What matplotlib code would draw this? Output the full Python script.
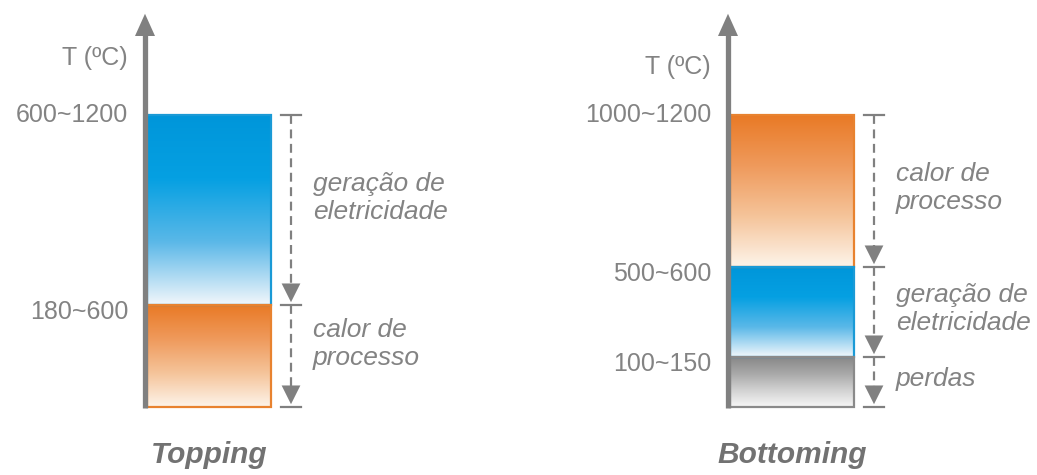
import numpy as np
import matplotlib
matplotlib.use("Agg")
import matplotlib.pyplot as plt
from matplotlib.colors import to_rgb

# ---------------- data ----------------
panel_titles = ["Topping", "Bottoming"]
# segments listed from top to bottom; heights in diagram units
topping_levels = ["600~1200", "180~600"]
topping_labels = ["geração de\neletricidade", "calor de\nprocesso"]
topping_heights = [190, 102]
topping_kinds = ["blue", "orange"]

bottoming_levels = ["1000~1200", "500~600", "100~150"]
bottoming_labels = ["calor de\nprocesso", "geração de\neletricidade", "perdas"]
bottoming_heights = [152, 90, 50]
bottoming_kinds = ["orange", "blue", "gray"]

axis_label = "T (ºC)"

# ---------------- style ----------------
W, H = 1037, 475
GRAY = "#808080"
TEXT = "#838383"
grad = {
    "blue": (["#0096da", "#05a0e2", "#5ab8e8", "#f2f7fb"], "#1a9ad6"),
    "orange": (["#e97a26", "#ef9a5c", "#f5c49a", "#fdf4ea"], "#e8822f"),
    "gray": (["#888888", "#a9a9a9", "#d2d2d2", "#f7f7f7"], "#8a8a8a"),
}

plt.rcParams["font.family"] = ["Liberation Sans", "DejaVu Sans"]
fig = plt.figure(figsize=(W / 100, H / 100), dpi=100)
ax = fig.add_axes([0, 0, 1, 1])
ax.set_xlim(0, W)
ax.set_ylim(-68, 407)   # y = 0 at bottom of the bars
ax.axis("off")


def gradient(colors, n=256):
    stops = np.linspace(0, 1, len(colors))
    rgb = np.array([to_rgb(c) for c in colors])
    t = np.linspace(0, 1, n)
    arr = np.stack([np.interp(t, stops, rgb[:, i]) for i in range(3)], axis=1)
    return arr[:, None, :]


def panel(axis_x, title, levels, labels, heights, kinds, tlabel_y, text_dy):
    bar_w = 124
    x0, x1 = axis_x + 2, axis_x + 2 + bar_w
    total = sum(heights)
    tops = total - np.concatenate([[0], np.cumsum(heights)[:-1]])
    bottoms = tops - np.array(heights)
    dim_x = x1 + 20
    # bars
    for top, bot, kind in zip(tops, bottoms, kinds):
        cols, edge = grad[kind]
        ax.imshow(gradient(cols), extent=(x0, x1, bot, top), origin="upper",
                  aspect="auto", zorder=2, interpolation="bilinear")
        ax.plot([x0, x1, x1, x0, x0], [top, top, bot, bot, top], color=edge,
                lw=1.6, zorder=3, solid_joinstyle="miter")
    # axis arrow
    ax.plot([axis_x, axis_x], [-1, 378], color=GRAY, lw=3.8, zorder=4,
            solid_capstyle="butt")
    ax.annotate("", xy=(axis_x, 396), xytext=(axis_x, 370),
                arrowprops=dict(arrowstyle="-|>,head_length=1.0,head_width=0.45",
                                color=GRAY, lw=0, mutation_scale=16), zorder=4)
    # level labels
    for top, lab in zip(tops, levels):
        ax.text(axis_x - 17, top - 7 if top < total else top, lab, ha="right",
                va="center", fontsize=18, color=TEXT)
    ax.text(axis_x - 17, tlabel_y, axis_label, ha="right", va="center",
            fontsize=18, color=TEXT)
    # dimension arrows
    for i, (top, bot, lab) in enumerate(zip(tops, bottoms, labels)):
        ax.plot([dim_x - 10, dim_x + 10], [top, top], color=GRAY, lw=1.6, zorder=3)
        ax.plot([dim_x, dim_x], [top, bot + 11], color=GRAY, lw=1.6,
                ls=(0, (4, 2.5)), zorder=3)
        ax.annotate("", xy=(dim_x, bot), xytext=(dim_x, bot + 13),
                    arrowprops=dict(arrowstyle="-|>,head_length=0.9,head_width=0.45",
                                    color=GRAY, lw=0, mutation_scale=15))
        if i == len(tops) - 1:
            ax.plot([dim_x - 10, dim_x + 10], [bot, bot], color=GRAY, lw=1.6, zorder=3)
        ax.text(x1 + 42, (top + bot) / 2 + text_dy, lab, ha="left", va="center",
                fontsize=19, color=TEXT, style="italic", linespacing=1.2)
    ax.text((x0 + x1) / 2, -48, title, ha="center", va="center", fontsize=21.5,
            color="#727272", style="italic", weight="bold")


panel(145, panel_titles[0], topping_levels, topping_labels, topping_heights,
      topping_kinds, 349, 12)
panel(728, panel_titles[1], bottoming_levels, bottoming_labels, bottoming_heights,
      bottoming_kinds, 340, 3)

fig.savefig("out.png", dpi=100)
